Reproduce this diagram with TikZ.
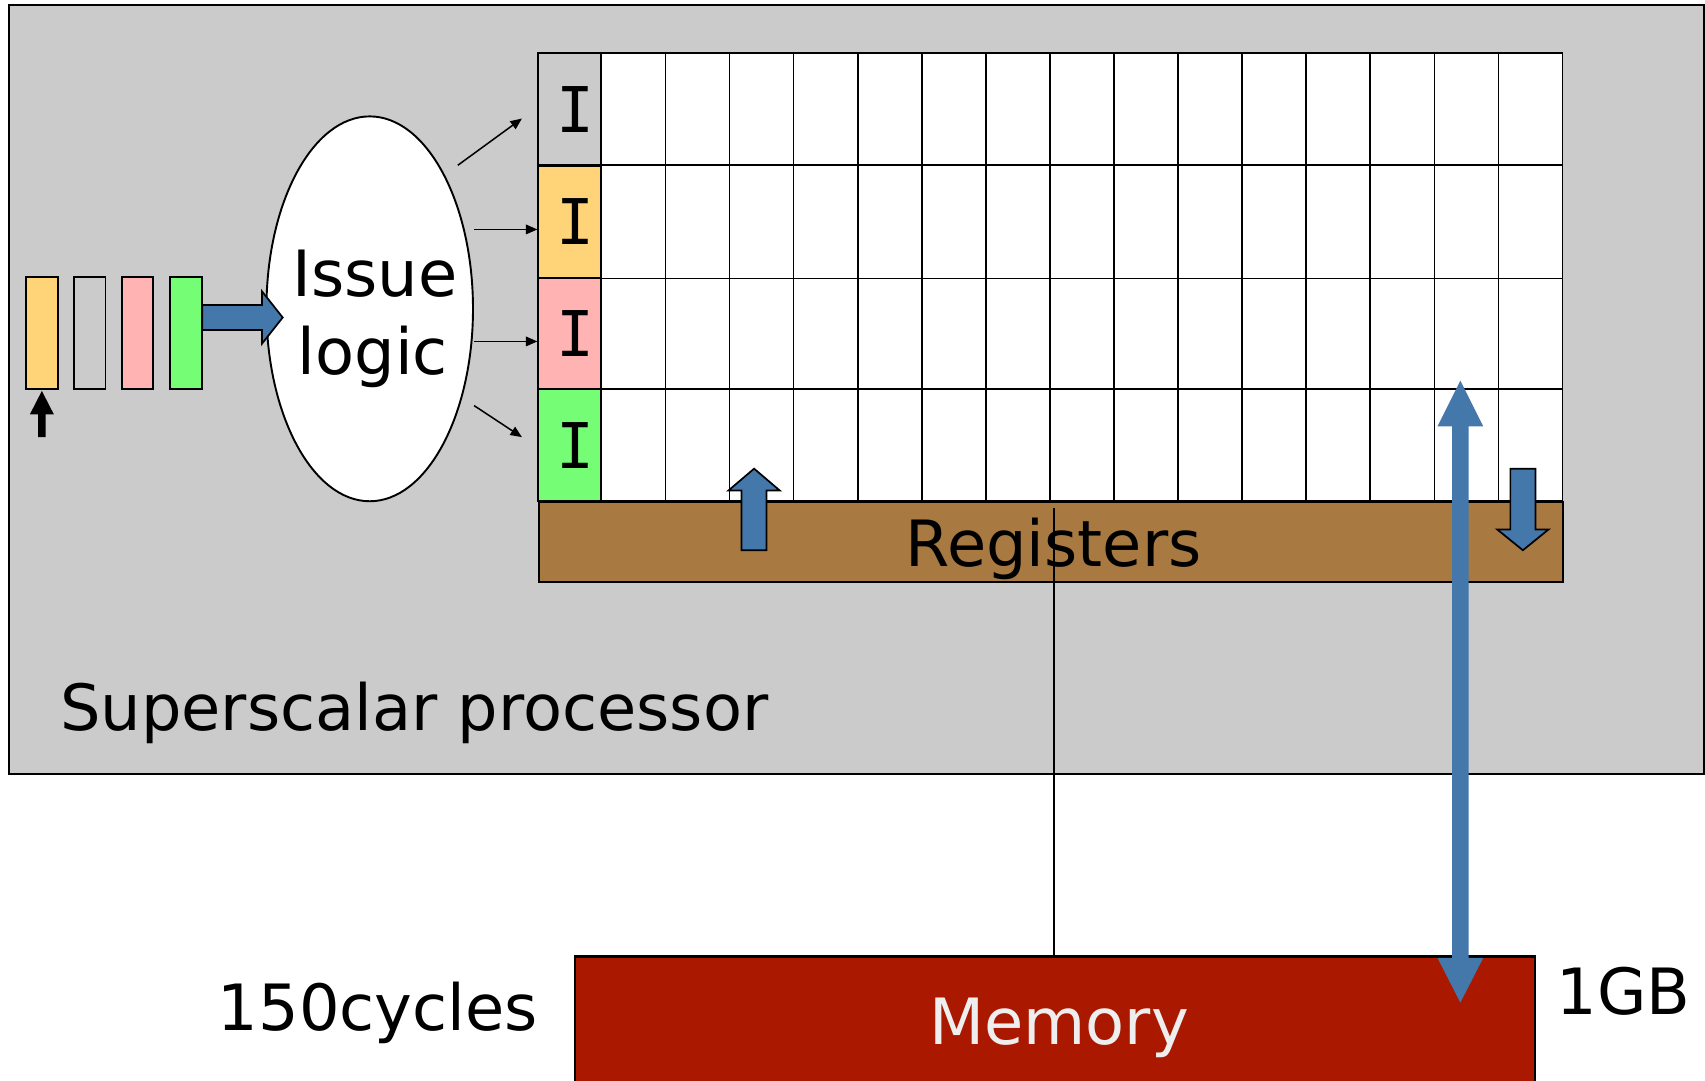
\documentclass[tikz,border=0pt]{standalone}
\usepackage{fontspec}
\setmainfont{DejaVu Sans}
\newfontfamily\ifont{DejaVu Sans Mono}
\usetikzlibrary{arrows.meta,shapes.geometric}
\definecolor{bggray}{RGB}{203,203,203}
\definecolor{cyellow}{RGB}{255,212,121}
\definecolor{cpink}{RGB}{255,179,179}
\definecolor{cgreen}{RGB}{118,253,118}
\definecolor{cblue}{RGB}{68,119,170}
\definecolor{cbrown}{RGB}{168,122,66}
\definecolor{cmem}{RGB}{170,24,0}
\definecolor{memtext}{RGB}{238,238,238}
\tikzset{
  txt/.style={font=\fontsize{33.4}{40}\selectfont, inner sep=0pt},
  icell/.style={draw, line width=0.9pt, minimum width=1.16cm, minimum height=2.06cm, inner sep=0pt,
     font=\ifont\fontsize{33}{40}\selectfont},
  slot/.style={draw, line width=1pt},
  blockarrow/.style={fill=cblue, draw=black, line width=0.9pt},
  issuearrow/.style={line width=0.8pt, -{Triangle[length=6pt,width=5pt]}},
}
\begin{document}
\begin{tikzpicture}[x=0.02cm,y=-0.02cm]
\useasboundingbox (0,0) rectangle (1568,994);
\clip (0,0) rectangle (1568,994);
% processor background
\draw[fill=bggray, line width=1pt] (8,5) rectangle (1567,712);
\node[txt, anchor=base west] (proc) at (55,671.5) {Superscalar processor};
% grid
\fill[white] (553,49) rectangle (1437,461);
\foreach \k in {1,...,14} {
  \draw[line width=0.9pt] ({553+\k*58.933},49) -- ({553+\k*58.933},461);
}
\foreach \r in {152,256,358} { \draw[line width=0.9pt] (553,\r) -- (1437,\r); }
\draw[line width=0.9pt] (553,49) rectangle (1437,461);
\node[icell, fill=bggray] (i1) at (524,100.5) {\kern6pt I};
\node[icell, fill=cyellow] (i2) at (524,204) {\kern6pt I};
\node[icell, fill=cpink] (i3) at (524,307) {\kern6pt I};
\node[icell, fill=cgreen] (i4) at (524,409.5) {\kern6pt I};
% registers
\node[draw, fill=cbrown, line width=1pt, minimum width=18.84cm, minimum height=1.46cm, inner sep=0pt, anchor=north west] (regs) at (495,461) {};
\node[txt, anchor=base] (regtext) at (969,521) {Registers};
% memory
\node[draw, fill=cmem, line width=1pt, minimum width=17.66cm, minimum height=3cm, inner sep=0pt, anchor=north west] (mem) at (528,879) {};
\draw[line width=1.3pt] (mem.north west) -- (mem.north east);
\node[txt, anchor=base, text=memtext] (memtext) at (974,961) {Memory};
\node[txt, anchor=base east] (cyc) at (495,948) {150cycles};
\node[txt, anchor=base west] (gb) at (1431,933) {1GB};
% connection line
\coordinate (lstart) at (969,467);
\draw[line width=0.9pt] (lstart) -- (lstart |- mem.north);
% instruction slots
\draw[slot, fill=cyellow] (24,255) rectangle (53,358);
\draw[slot, fill=bggray] (68,255) rectangle (97,358);
\draw[slot, fill=cpink] (112,255) rectangle (141,358);
\draw[slot, fill=cgreen] (156,255) rectangle (186,358);
% pointer arrow
\fill[black] (38.5,359.5) -- (49.5,381) -- (42,381) -- (42,402) -- (35,402) -- (35,381) -- (27.5,381) -- cycle;
% issue logic ellipse
\node[ellipse, draw, fill=white, line width=1pt, minimum width=3.8cm, minimum height=7.08cm, inner sep=0pt] (issue) at (340,284) {};
\node[txt, anchor=base] at (345,273) {Issue};
\node[txt, anchor=base] at (343,344) {logic};
% block arrow into issue logic
\draw[blockarrow] (186,280.5) -- (241,280.5) -- (241,268) -- (260,292) -- (241,316) -- (241,303.5) -- (186,303.5) -- cycle;
% issue arrows
\coordinate (a1) at (421,152);
\coordinate (a2) at (436,211);
\coordinate (a3) at (436,314);
\coordinate (a4) at (436,373);
\coordinate (b1) at (480,109);
\coordinate (b4) at (480,402);
\draw[issuearrow] (a1) -- (b1);
\draw[issuearrow] (a2) -- (a2 -| i2.west);
\draw[issuearrow] (a3) -- (a3 -| i3.west);
\draw[issuearrow] (a4) -- (b4);
% small register arrows
\draw[blockarrow] (693.5,431) -- (717,451) -- (705,451) -- (705,506) -- (682,506) -- (682,451) -- (670,451) -- cycle;
\draw[blockarrow] (1389,431) -- (1412,431) -- (1412,487) -- (1424,487) -- (1400.5,506) -- (1377,487) -- (1389,487) -- cycle;
% big memory arrow
\fill[cblue] (1343,350) -- (1364,392) -- (1350.5,392) -- (1350.5,881) -- (1364,881) -- (1343,922) -- (1322,881) -- (1335.5,881) -- (1335.5,392) -- (1322,392) -- cycle;
\end{tikzpicture}
\end{document}
